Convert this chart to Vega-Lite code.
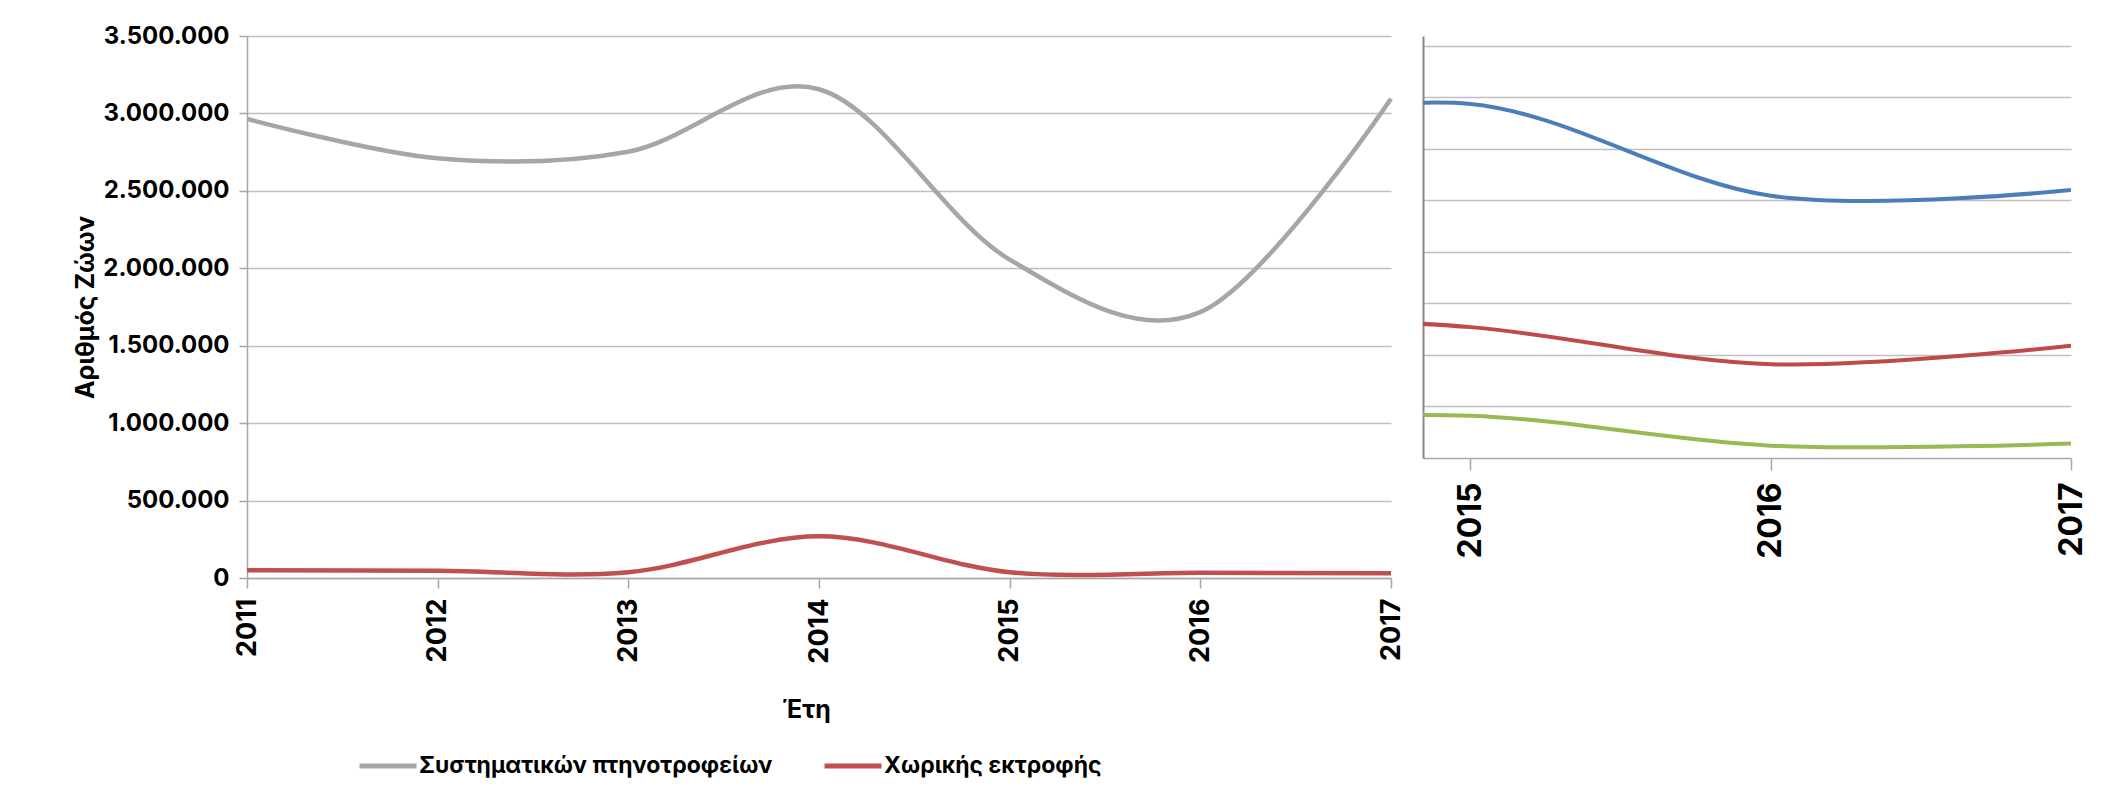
{
  "$schema": "https://vega.github.io/schema/vega-lite/v6.json",
  "background": "white",
  "padding": {"left": 73, "top": 24, "right": 0, "bottom": 0},
  "bounds": "flush",
  "spacing": 32,
  "config": {
    "view": {"stroke": null},
    "font": "Inter",
    "locale": {"number": {"decimal": ",", "thousands": ".", "grouping": [3], "currency": ["", " €"]}},
    "axis": {"labelFont": "Inter", "titleFont": "Inter", "labelColor": "#000000", "titleColor": "#000000"}
  },
  "resolve": {"scale": {"color": "independent", "x": "independent", "y": "independent"}, "legend": {"color": "independent"}},
  "datasets": {
    "left": [
      {"year": 2011, "series": "Συστηματικών πτηνοτροφείων", "value": 2965000},
      {"year": 2012, "series": "Συστηματικών πτηνοτροφείων", "value": 2710000},
      {"year": 2013, "series": "Συστηματικών πτηνοτροφείων", "value": 2753000},
      {"year": 2014, "series": "Συστηματικών πτηνοτροφείων", "value": 3156000},
      {"year": 2015, "series": "Συστηματικών πτηνοτροφείων", "value": 2056000},
      {"year": 2016, "series": "Συστηματικών πτηνοτροφείων", "value": 1717000},
      {"year": 2017, "series": "Συστηματικών πτηνοτροφείων", "value": 3095000},
      {"year": 2011, "series": "Χωρικής εκτροφής", "value": 50000},
      {"year": 2012, "series": "Χωρικής εκτροφής", "value": 47000},
      {"year": 2013, "series": "Χωρικής εκτροφής", "value": 37000},
      {"year": 2014, "series": "Χωρικής εκτροφής", "value": 269000},
      {"year": 2015, "series": "Χωρικής εκτροφής", "value": 37000},
      {"year": 2016, "series": "Χωρικής εκτροφής", "value": 34000},
      {"year": 2017, "series": "Χωρικής εκτροφής", "value": 30000}
    ],
    "right": [
      {"year": 2014, "series": "Σειρά 1", "value": 6.22},
      {"year": 2015, "series": "Σειρά 1", "value": 6.87},
      {"year": 2016, "series": "Σειρά 1", "value": 5.09},
      {"year": 2017, "series": "Σειρά 1", "value": 5.2},
      {"year": 2014, "series": "Σειρά 2", "value": 2.78},
      {"year": 2015, "series": "Σειρά 2", "value": 2.54},
      {"year": 2016, "series": "Σειρά 2", "value": 1.82},
      {"year": 2017, "series": "Σειρά 2", "value": 2.18},
      {"year": 2014, "series": "Σειρά 3", "value": 0.68},
      {"year": 2015, "series": "Σειρά 3", "value": 0.82},
      {"year": 2016, "series": "Σειρά 3", "value": 0.24},
      {"year": 2017, "series": "Σειρά 3", "value": 0.28}
    ]
  },
  "hconcat": [
    {
      "width": 1144,
      "height": 542,
      "data": {"name": "left"},
      "mark": {"type": "line", "interpolate": "cardinal", "strokeWidth": 4.5},
      "encoding": {
        "x": {
          "field": "year", "type": "quantitative",
          "scale": {"domain": [2011, 2017], "nice": false, "zero": false},
          "axis": {
            "values": [2011, 2012, 2013, 2014, 2015, 2016, 2017], "format": "d",
            "labelAngle": -90, "grid": false, "tickSize": 10, "tickColor": "#A6A6A6", "tickWidth": 1.5,
            "domainColor": "#A6A6A6", "domainWidth": 1.5,
            "labelFontSize": 27, "labelFontWeight": "bold", "labelPadding": 10,
            "title": "Έτη", "titleFontSize": 25, "titleFontWeight": "bold", "titlePadding": 34, "titleX": 559
          }
        },
        "y": {
          "field": "value", "type": "quantitative",
          "scale": {"domain": [0, 3500000], "nice": false},
          "axis": {
            "values": [0, 500000, 1000000, 1500000, 2000000, 2500000, 3000000, 3500000], "format": ",d",
            "grid": true, "gridColor": "#BFBFBF", "gridWidth": 1.5,
            "tickSize": 8, "tickColor": "#A6A6A6", "tickWidth": 1.5,
            "domainColor": "#A6A6A6", "domainWidth": 1.5,
            "labelFontSize": 24, "labelFontWeight": "bold", "labelPadding": 10,
            "title": "Αριθμός Ζώων", "titleFontSize": 25, "titleFontWeight": "bold", "titlePadding": 4
          }
        },
        "color": {
          "field": "series", "type": "nominal",
          "scale": {"domain": ["Συστηματικών πτηνοτροφείων", "Χωρικής εκτροφής"], "range": ["#A6A6A6", "#C0504D"]},
          "legend": {
            "orient": "none", "legendX": 110, "legendY": 699, "direction": "horizontal", "title": null,
            "symbolType": "stroke", "symbolSize": 3249, "symbolStrokeWidth": 5,
            "labelFont": "Inter", "labelFontSize": 23, "labelFontWeight": "bold", "labelColor": "#000000",
            "columnPadding": 41, "labelOffset": 0, "labelLimit": 0
          }
        }
      }
    },
    {
      "width": 648,
      "height": 422,
      "data": {"name": "right"},
      "mark": {"type": "line", "interpolate": "cardinal", "strokeWidth": 4, "clip": true},
      "encoding": {
        "x": {
          "field": "year", "type": "quantitative",
          "scale": {"domain": [2014.842, 2017], "nice": false, "zero": false},
          "axis": {
            "values": [2015, 2016, 2017], "format": "d", "labelAngle": -90, "grid": false,
            "tickSize": 12, "tickColor": "#A6A6A6", "tickWidth": 1.5,
            "domainColor": "#A6A6A6", "domainWidth": 1.5,
            "labelPadding": 12, "labelFontSize": 32, "labelFontWeight": "bold", "title": null
          }
        },
        "y": {
          "field": "value", "type": "quantitative",
          "scale": {"domain": [0, 8.19], "nice": false},
          "axis": {
            "values": [1, 2, 3, 4, 5, 6, 7, 8], "labels": false, "ticks": false, "title": null,
            "grid": true, "gridColor": "#BFBFBF", "gridWidth": 1.5,
            "domainColor": "#888888", "domainWidth": 2
          }
        },
        "color": {
          "field": "series", "type": "nominal",
          "scale": {"domain": ["Σειρά 1", "Σειρά 2", "Σειρά 3"], "range": ["#4A7EBB", "#BE4B48", "#98B954"]},
          "legend": null
        }
      }
    }
  ]
}
